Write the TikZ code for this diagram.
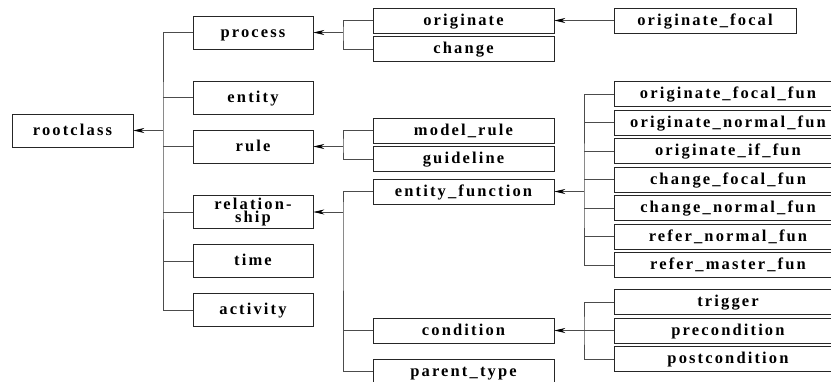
\documentclass[tikz,border=0pt]{standalone}
\usepackage{fontspec}
\usetikzlibrary{arrows.meta,shadows}
\newfontfamily\labelfont{Liberation Serif}[UprightFont={* Bold}, LetterSpace=13]

\tikzset{
  box/.style={draw=black!85, line width=0.6pt, fill=white, inner sep=0pt,
    font=\labelfont\fontsize{16.5}{13}\selectfont, align=center,
    drop shadow={shadow xshift=0.8pt, shadow yshift=-0.8pt, fill=black!80, opacity=1}},
  oneline/.style={text height=13pt, text depth=4pt},
  top/.style={box, minimum width=120pt, minimum height=33pt},
  mid/.style={box, oneline, minimum width=181pt, minimum height=25pt},
  leaf/.style={box, oneline, minimum width=228pt, minimum height=25pt},
  link/.style={draw=black!70, line width=0.7pt},
  arr/.style={link, -{Stealth[length=11pt,width=5pt,inset=3.5pt,color=black]}},
}

\begin{document}
\begin{tikzpicture}[x=1pt,y=-1pt]
\useasboundingbox (0,0) rectangle (831,381);
\fill[white] (0,0) rectangle (831,381);

% root and first level
\node[top, oneline, minimum width=121pt] (root) at (72.5,130.5) {rootclass};
\node[top, oneline] (process) at (253,32.5) {process};
\node[top, oneline] (entity) at (253,97.5) {entity};
\node[top, oneline] (rule) at (253,146.5) {rule};
\node[top] (relationship) at (253,212) {relation-\\ship};
\node[top, oneline] (time) at (253,261) {time};
\node[top, oneline] (activity) at (253,310) {activity};

% second level
\node[mid] (originate) at (463.5,20.5) {originate};
\node[mid] (change) at (463.5,49) {change};
\node[mid] (modelrule) at (463.5,130.5) {model\_rule};
\node[mid] (guideline) at (463.5,159) {guideline};
\node[mid] (entityfunction) at (463.5,191.5) {entity\_function};
\node[mid] (condition) at (463.5,330.5) {condition};
\node[mid] (parenttype) at (463.5,371.5) {parent\_type};

% third level
\node[mid, minimum width=182pt] (originatefocal) at (705,20.5) {originate\_focal};
\node[leaf] (ofocalfun) at (728,94) {originate\_focal\_fun};
\node[leaf] (onormalfun) at (728,122.5) {originate\_normal\_fun};
\node[leaf] (oiffun) at (728,151) {originate\_if\_fun};
\node[leaf] (cfocalfun) at (728,179.5) {change\_focal\_fun};
\node[leaf] (cnormalfun) at (728,208) {change\_normal\_fun};
\node[leaf] (rnormalfun) at (728,236.5) {refer\_normal\_fun};
\node[leaf] (rmasterfun) at (728,265) {refer\_master\_fun};
\node[leaf] (trigger) at (728,302) {trigger};
\node[leaf] (precondition) at (728,330.5) {precondition};
\node[leaf] (postcondition) at (728,359) {postcondition};

% junction points of the trees
\coordinate (jroot) at (163,130.5);
\coordinate (jprocess) at (343,32.5);
\coordinate (jrule) at (343,146.5);
\coordinate (jrel) at (343,212);
\coordinate (jef) at (584,191.5);
\coordinate (jcond) at (584,330.5);

% rootclass subtree
\draw[link] (process.west) -| (jroot) |- (activity.west);
\draw[link] (entity.west) -- (entity.west -| jroot);
\draw[link] (rule.west) -- (rule.west -| jroot);
\draw[link] (relationship.west) -- (relationship.west -| jroot);
\draw[link] (time.west) -- (time.west -| jroot);
\draw[arr] (jroot) -- (root.east);

% process subtree
\draw[link] (originate.west) -| (jprocess) |- (change.west);
\draw[arr] (jprocess) -- (process.east);
\draw[arr] (originatefocal.west) -- (originate.east);

% rule subtree
\draw[link] (modelrule.west) -| (jrule) |- (guideline.west);
\draw[arr] (jrule) -- (rule.east);

% relationship subtree
\draw[link] (entityfunction.west) -| (jrel) |- (parenttype.west);
\draw[link] (condition.west) -- (condition.west -| jrel);
\draw[arr] (jrel) -- (relationship.east);

% entity_function subtree
\draw[link] (ofocalfun.west) -| (jef) |- (rmasterfun.west);
\draw[link] (onormalfun.west) -- (onormalfun.west -| jef);
\draw[link] (oiffun.west) -- (oiffun.west -| jef);
\draw[link] (cfocalfun.west) -- (cfocalfun.west -| jef);
\draw[link] (cnormalfun.west) -- (cnormalfun.west -| jef);
\draw[link] (rnormalfun.west) -- (rnormalfun.west -| jef);
\draw[arr] (jef) -- (entityfunction.east);

% condition subtree
\draw[link] (trigger.west) -| (jcond) |- (postcondition.west);
\draw[arr] (precondition.west) -- (condition.east);
\end{tikzpicture}
\end{document}
